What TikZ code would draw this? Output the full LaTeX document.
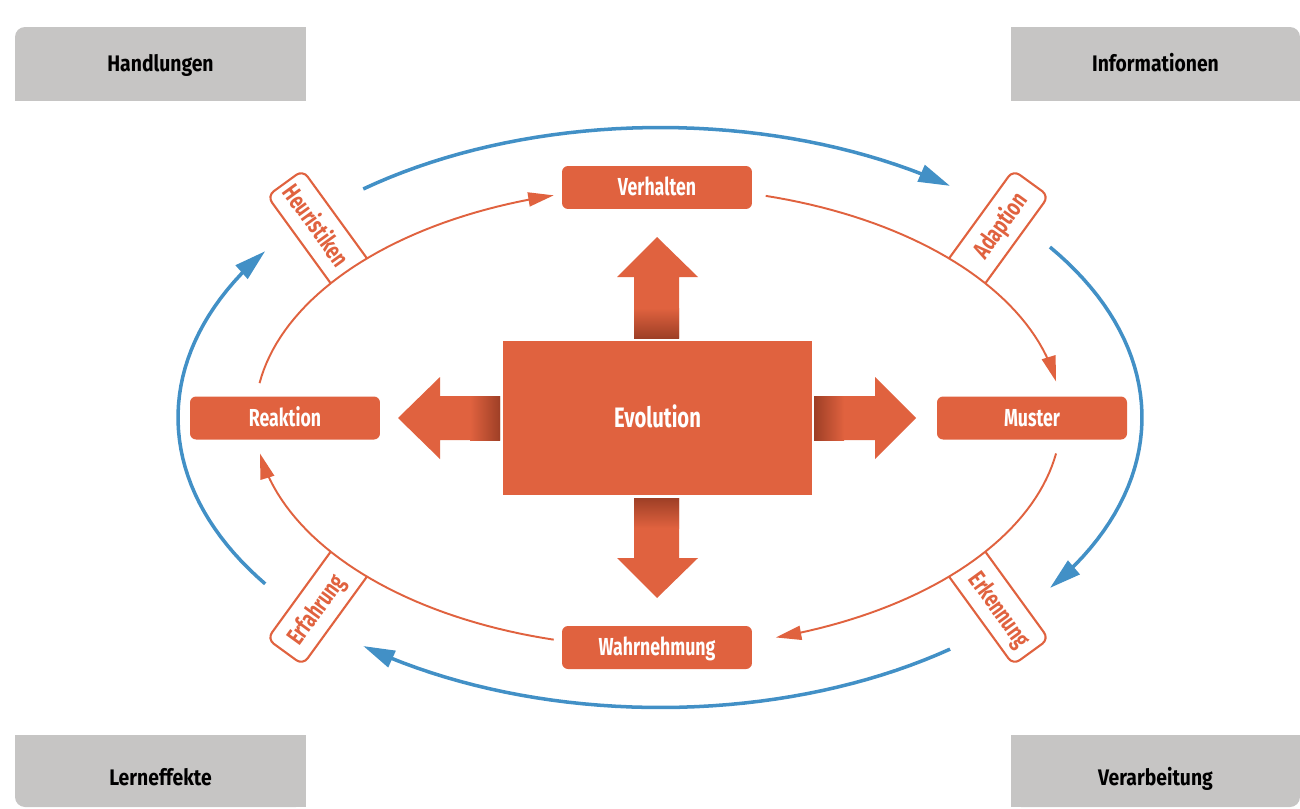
\documentclass[tikz,border=0pt]{standalone}
\usepackage{fontspec}
\setmainfont{Fira Sans}
\newfontfamily\condfont{Fira Sans}[FakeStretch=0.72]
\newfontfamily\semifont{Fira Sans}[FakeStretch=0.86]
\usetikzlibrary{arrows.meta}
\definecolor{evo}{RGB}{224,98,63}
\definecolor{evodark}{RGB}{158,63,38}
\definecolor{ring}{RGB}{66,144,198}
\definecolor{boxgrey}{RGB}{198,197,196}
\begin{document}
\begin{tikzpicture}[x=0.02cm, y=-0.02cm,
    greybox/.style={fill=boxgrey, rounded corners=0.2cm, inner sep=0pt,
      minimum width=5.82cm, minimum height=1.48cm, text depth=0pt,
      font=\semifont\bfseries\fontsize{12.8}{14}\selectfont},
    stage/.style={fill=evo, rounded corners=0.12cm, inner sep=0pt, text=white,
      minimum width=3.8cm, minimum height=0.86cm, text height=9.6pt, text depth=0pt,
      font=\condfont\bfseries\fontsize{14}{16}\selectfont},
    labeltab/.style={draw=evo, fill=white, line width=1.2pt, rounded corners=0.16cm,
      minimum width=3cm, minimum height=0.88cm},
    tabtext/.style={text=evo, inner sep=0pt, text height=9.6pt, text depth=0pt,
      font=\condfont\bfseries\fontsize{14}{16}\selectfont},
    innerloop/.style={evo, line width=1.1pt, -{Triangle[length=14.5pt, width=8pt]}},
    outerloop/.style={ring, line width=2pt, -{Triangle[length=18pt, width=10pt]}}]
  \useasboundingbox (0,0) rectangle (1300,808);
  \node[greybox, text height=8.5pt] (hand) at (160.5,64) {Handlungen};
  \node[greybox, text height=8.5pt, minimum width=5.78cm] (info) at (1155.5,64) {Informationen};
  \node[greybox, text height=16pt, minimum height=1.44cm] (lern) at (160.5,771) {Lerneffekte};
  \node[greybox, text height=16pt, minimum height=1.44cm, minimum width=5.78cm] (verarb) at (1155.5,771) {Verarbeitung};
  \foreach \n/\c/\dx/\dy in {hand/north east/-1/1, hand/south east/-1/-1, hand/south west/1/-1,
      info/north west/1/1, info/south west/1/-1, info/south east/-1/-1,
      lern/north west/1/1, lern/north east/-1/1, lern/south east/-1/-1,
      verarb/north west/1/1, verarb/north east/-1/1, verarb/south west/1/-1}
    \fill[boxgrey] (\n.\c) rectangle ++(15*\dx,15*\dy);

  \node[labeltab, rotate=-54] (heurtab) at (329.1,243.7) {};
  \node[labeltab, rotate=54] (adaptab) at (986.9,243.7) {};
  \node[labeltab, rotate=-54] (erkentab) at (986.9,591.3) {};
  \node[labeltab, rotate=54] (erfatab) at (329.1,591.3) {};
  \fill[white] plot[domain=0:360, samples=120] ({658+403*cos(\x)},{417.5+230*sin(\x)}) -- cycle;

  \foreach \a/\b in {188.6/255, 285.5/351, 9/73, 105/171}
    \draw[innerloop] plot[domain=\a:\b, samples=40] ({658+403*cos(\x)},{417.5+230*sin(\x)});
  \foreach \a/\b in {232/307, -36/36, 53/128, 145/215}
    \draw[outerloop] plot[domain=\a:\b, samples=40] ({660+482*cos(\x)},{417.5+290*sin(\x)});

  \node[tabtext, rotate=-54] (heur) at (315.9,225.5) {Heuristiken};
  \node[tabtext, rotate=54] (adap) at (1000.1,225.5) {Adaption};
  \node[tabtext, rotate=-54] (erken) at (1000.1,609.5) {Erkennung};
  \node[tabtext, rotate=54] (erfa) at (315.9,609.5) {Erfahrung};

  \node[stage] (verh) at (657,187.5) {Verhalten};
  \node[stage] (must) at (1032,418) {Muster};
  \node[stage] (wahr) at (657,647.5) {Wahrnehmung};
  \node[stage] (reak) at (285,418) {Reaktion};
  \node[stage, rounded corners=0, minimum width=6.18cm, minimum height=3.08cm, text height=10.8pt,
    font=\condfont\bfseries\fontsize{16}{18}\selectfont] (evol) at (657.5,418) {Evolution};

  \fill[evo] (634,338) -- (634,277) -- (617,277) -- (657,237) -- (698,277) -- (679,277) -- (679,338) -- cycle;
  \shade[top color=evo, bottom color=evodark] (634,308) rectangle (679,338);
  \fill[evo] (634,498) -- (634,558) -- (617,558) -- (657,598) -- (698,558) -- (679,558) -- (679,498) -- cycle;
  \shade[top color=evodark, bottom color=evo] (634,498) rectangle (679,528);
  \fill[evo] (814,396) -- (875,396) -- (875,377) -- (916,418) -- (875,459) -- (875,440) -- (814,440) -- cycle;
  \shade[left color=evodark, right color=evo] (814,396) rectangle (844,440);
  \fill[evo] (500,396) -- (440,396) -- (440,377) -- (398,418) -- (440,459) -- (440,440) -- (500,440) -- cycle;
  \shade[left color=evo, right color=evodark] (470,396) rectangle (500,440);
\end{tikzpicture}
\end{document}
